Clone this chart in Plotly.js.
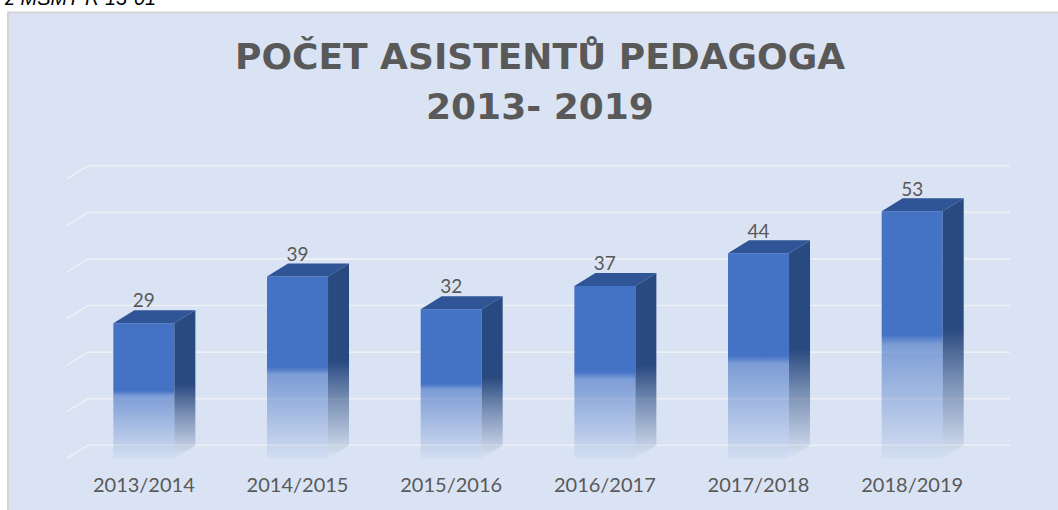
<!DOCTYPE html>
<html>
<head>
<meta charset="utf-8">
<script src="https://cdn.plot.ly/plotly-3.0.1.min.js"></script>
<style>
  html, body { margin: 0; padding: 0; background: #ffffff; }
  #chart { width: 1058px; height: 510px; }
</style>
</head>
<body>
<div id="chart"></div>
<script>
// ---- data ----
const categories = ['2013/2014', '2014/2015', '2015/2016', '2016/2017', '2017/2018', '2018/2019'];
const values = [29, 39, 32, 37, 44, 53];
const gridValues = [0, 10, 20, 30, 40, 50, 60];
const titleLines = ['POČET ASISTENTŮ PEDAGOGA', '2013- 2019'];
const sourceText = 'z MŠMT R 13-01';

// ---- 3D look (style constants, in axis units) ----
const DX = 0.1367;   // depth offset along x
const DY = 2.79;     // depth offset along y
const HW = 0.1985;   // half bar width

const frontColor = '68,114,196';
const sideColor = '41,74,128';
const topColor = '#2F5597';

const traces = [];

// back-wall gridlines + side-wall diagonals
const gx = [], gy = [];
gridValues.forEach(v => {
  gx.push(-0.5 - DX, -0.5, 5.5, null);
  gy.push(v - DY, v, v, null);
});
traces.push({
  type: 'scatter', mode: 'lines', x: gx, y: gy,
  line: { color: '#EDF0F4', width: 1.6 }, hoverinfo: 'skip', showlegend: false
});

values.forEach((v, i) => {
  const fl = i - DX - HW, fr = i - DX + HW;
  const bl = i - HW, br = i + HW;
  // front face
  traces.push({
    type: 'scatter', mode: 'lines', fill: 'toself',
    x: [fl, fr, fr, fl, fl], y: [-DY, -DY, v - DY, v - DY, -DY],
    line: { width: 0, color: 'rgba(0,0,0,0)' },
    fillgradient: {
      type: 'vertical',
      colorscale: [
        [0, 'rgba(' + frontColor + ',0.05)'],
        [0.46, 'rgba(' + frontColor + ',0.62)'],
        [0.5, 'rgba(' + frontColor + ',1)'],
        [1, 'rgba(' + frontColor + ',1)']
      ]
    },
    hoverinfo: 'skip', showlegend: false
  });
  // side face
  traces.push({
    type: 'scatter', mode: 'lines', fill: 'toself',
    x: [fr, br, br, fr, fr], y: [-DY, 0, v, v - DY, -DY],
    line: { width: 0, color: 'rgba(0,0,0,0)' },
    fillgradient: {
      type: 'vertical',
      colorscale: [
        [0, 'rgba(' + sideColor + ',0)'],
        [0.3, 'rgba(' + sideColor + ',0.55)'],
        [0.5, 'rgba(' + sideColor + ',1)'],
        [1, 'rgba(' + sideColor + ',1)']
      ]
    },
    hoverinfo: 'skip', showlegend: false
  });
  // top face
  traces.push({
    type: 'scatter', mode: 'lines', fill: 'toself',
    x: [fl, fr, br, bl, fl], y: [v - DY, v - DY, v, v, v - DY],
    line: { width: 0, color: 'rgba(0,0,0,0)' },
    fillcolor: topColor,
    hoverinfo: 'skip', showlegend: false
  });
});

// value labels
traces.push({
  type: 'scatter', mode: 'text',
  x: values.map((v, i) => i - DX),
  y: values.map(v => v + 1.6),
  text: values.map(String),
  textposition: 'middle center',
  textfont: { family: 'Lato, sans-serif', size: 19, color: '#595959' },
  cliponaxis: false, hoverinfo: 'skip', showlegend: false
});

const titleFont = { family: 'DejaVu Sans, sans-serif', size: 36, color: '#595959', weight: 700 };

const layout = {
  width: 1058, height: 510,
  margin: { l: 0, r: 0, t: 0, b: 0, pad: 0 },
  paper_bgcolor: '#ffffff',
  plot_bgcolor: 'rgba(0,0,0,0)',
  showlegend: false,
  title: { text: '' },
  xaxis: {
    domain: [49.6 / 1058, 1025.4 / 1058],
    range: [-0.75, 5.6],
    showgrid: false, zeroline: false, showline: false,
    tickmode: 'array',
    tickvals: categories.map((c, i) => i - DX),
    ticktext: categories,
    ticks: 'outside', ticklen: 3, tickcolor: 'rgba(0,0,0,0)',
    tickfont: { family: 'Lato, sans-serif', size: 20, color: '#595959' },
    fixedrange: true
  },
  yaxis: {
    domain: [0.0904, 0.6933],
    range: [-4, 62],
    showgrid: false, zeroline: false, showline: false,
    showticklabels: false, ticks: '',
    fixedrange: true
  },
  shapes: [{
    type: 'rect', xref: 'paper', yref: 'paper', layer: 'below',
    x0: 8 / 1058, x1: 1.05, y0: -0.05, y1: 1 - 12.5 / 510,
    fillcolor: '#DAE3F3',
    line: { color: '#D3D3D3', width: 2 }
  }],
  annotations: [
    {
      text: titleLines[0], xref: 'paper', yref: 'paper',
      x: 540 / 1058, xanchor: 'center', y: 1 - 56 / 510, yanchor: 'middle',
      showarrow: false, font: titleFont
    },
    {
      text: titleLines[1], xref: 'paper', yref: 'paper',
      x: 540 / 1058, xanchor: 'center', y: 1 - 106 / 510, yanchor: 'middle',
      showarrow: false, font: titleFont
    },
    {
      text: sourceText, xref: 'paper', yref: 'paper',
      x: 158 / 1058, xanchor: 'right',
      y: 1 - 11 / 510, yanchor: 'bottom',
      showarrow: false,
      font: { family: 'Liberation Sans, Arial, sans-serif', size: 20, color: '#000000', style: 'italic' }
    }
  ]
};

Plotly.newPlot('chart', traces, layout, { displayModeBar: false, staticPlot: true });
</script>
</body>
</html>
